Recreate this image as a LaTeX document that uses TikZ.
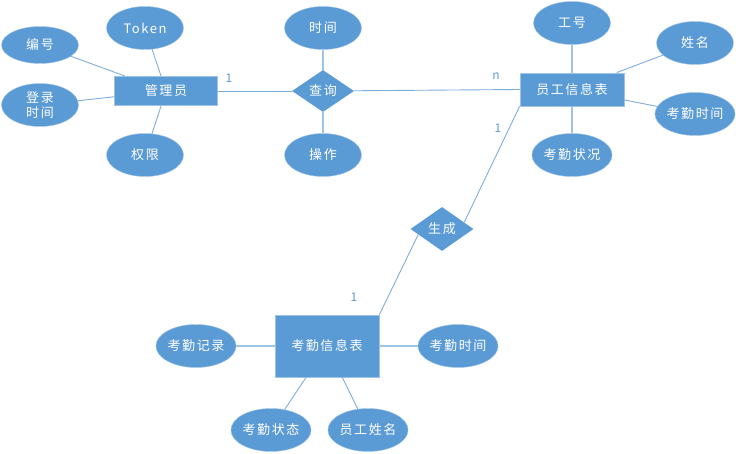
\documentclass[tikz,border=0pt]{standalone}
\usepackage{fontspec}
\setmainfont{Noto Sans CJK SC}
\newfontfamily\cjk[LetterSpace=12]{Noto Sans CJK SC}
\usetikzlibrary{shapes.geometric,calc}
\definecolor{fillblue}{HTML}{5B9BD5}
\definecolor{edgeblue}{HTML}{9DC3E6}
\definecolor{lineblue}{HTML}{7EAEDD}
\tikzset{
  attr/.style={ellipse,fill=fillblue,draw=edgeblue,line width=0.4pt,minimum width=77pt,minimum height=43pt,inner sep=0pt,text=white,font=\cjk\fontsize{13}{16}\selectfont,align=center},
  ent/.style={rectangle,fill=fillblue,draw=edgeblue,line width=0.8pt,inner sep=0pt,text=white,font=\cjk\fontsize{13}{16}\selectfont},
  rel/.style={diamond,fill=fillblue,inner sep=0pt,text=white,font=\cjk\fontsize{13}{16}\selectfont},
  conn/.style={draw=lineblue,line width=0.9pt},
  thick conn/.style={draw=edgeblue,line width=1.6pt},
  card/.style={text=fillblue,font=\fontsize{12}{14}\selectfont,inner sep=0pt}
}
\begin{document}
\begin{tikzpicture}[x=1pt,y=-1pt]
\useasboundingbox (0,0) rectangle (736,454);
% entities
\node[ent,minimum width=103pt,minimum height=29pt] (gly) at (166,91) {管理员};
\node[ent,minimum width=104pt,minimum height=33pt] (yg) at (572,89.5) {员工信息表};
\node[ent,minimum width=104pt,minimum height=62pt] (kq) at (327,346) {考勤信息表};
% relations
\node[rel,minimum width=62pt,minimum height=42pt] (cx) at (323,91) {查询};
\node[rel,minimum width=63pt,minimum height=44pt] (sc) at (442,229) {生成};
% attributes of gly
\node[attr,minimum height=37pt] (bh) at (40,45) {编号};
\node[attr] (tk) at (145,28) {Token};
\node[attr] (dl) at (40,105) {登录\\[-1pt]时间};
\node[attr] (qx) at (145,155) {权限};
% attributes of cx
\node[attr] (sj) at (323,28) {时间};
\node[attr] (cz) at (323,155) {操作};
% attributes of yg
\node[attr] (gh) at (572,23) {工号};
\node[attr] (xm) at (695,43) {姓名};
\node[attr] (kqsj1) at (695,114) {考勤时间};
\node[attr] (kqzk) at (572,155) {考勤状况};
% attributes of kq
\node[attr,minimum width=79pt] (kqjl) at (196,346) {考勤记录};
\node[attr] (kqsj2) at (458,346) {考勤时间};
\node[attr] (kqzt) at (271,430) {考勤状态};
\node[attr] (ygxm) at (368,430) {员工姓名};
% connectors
\draw[conn] (bh) -- (gly);
\draw[conn] (tk) -- (gly);
\draw[conn] (dl) -- (gly);
\draw[conn] (qx) -- (gly);
\draw[conn] (gly) -- (cx);
\draw[conn] (cx) -- (yg.west);
\draw[thick conn,line width=1.1pt] (sj) -- (cx);
\draw[thick conn,line width=1.1pt] (cz) -- (cx);
\draw[thick conn,line width=1.1pt] (gh) -- (yg);
\draw[conn] (xm) -- (yg);
\draw[conn] (kqsj1) -- (yg);
\draw[thick conn,line width=1.1pt] (kqzk) -- (yg);
\coordinate (scu) at ($(sc.east)!0.3!(sc.north)$);
\coordinate (scl) at ($(sc.west)!0.25!(sc.south)$);
\draw[conn] (yg.south west) -- (scu);
\draw[conn] (scl) -- (kq.north east);
\draw[thick conn] (kqjl) -- (kq);
\draw[thick conn] (kqsj2) -- (kq);
\draw[conn] (kqzt) -- (kq);
\draw[conn] (ygxm) -- (kq);
% cardinalities
\node[card] (c1) at (229,78) {1};
\node[card] (c2) at (496,76) {n};
\node[card] (c3) at (498,128) {1};
\node[card] (c4) at (354,297) {1};
\end{tikzpicture}
\end{document}
